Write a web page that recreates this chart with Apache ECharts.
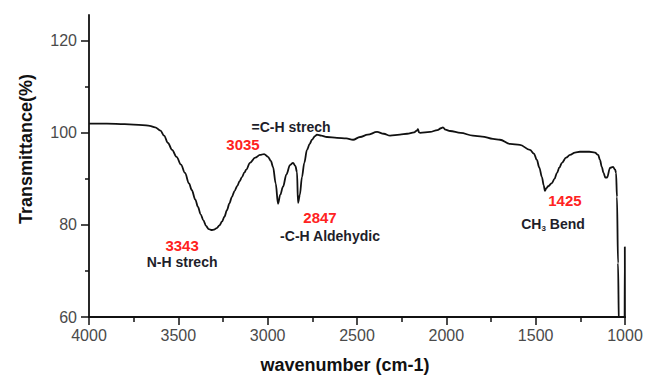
<!DOCTYPE html>
<html><head><meta charset="utf-8">
<script src="https://cdn.jsdelivr.net/npm/echarts@6/dist/echarts.min.js"></script>
<style>html,body{margin:0;padding:0;background:#fff}#c{width:646px;height:376px}</style>
</head><body><div id="c"></div>
<script>
// wavenumber (cm-1)
const wavenumber = [4000,3900,3800,3700,3660,3630,3600,3580,3558,3535,3510,3485,3463,3440,3425,3405,3390,3375,3360,3345,3330,3315,3300,3285,3270,3256,3242,3228,3214,3200,3185,3170,3157,3144,3130,3120,3099,3070,3043,3020,2998,2982,2970,2955,2942,2930,2914,2895,2875,2858,2845,2836,2830,2820,2808,2795,2780,2765,2752,2735,2724,2700,2668,2612,2560,2522,2483,2440,2388,2350,2315,2260,2220,2180,2165,2159,2153,2147,2091,2050,2030,2019,2005,1979,1920,1851,1800,1739,1700,1644,1588,1532,1510,1493,1480,1465,1455,1448,1440,1430,1409,1395,1381,1367,1353,1330,1308,1280,1252,1200,1168,1150,1140,1130,1120,1110,1100,1084,1067,1055,1050,1045,1039,1034,1025,1003,1001,1000];
// transmittance (%)
const transmittance = [102.0,102.0,101.9,101.7,101.5,101.2,100.5,99.4,97.8,96.3,94.8,93.1,91.3,89.0,87.6,85.5,83.9,82.3,81.0,79.8,79.1,78.9,79.0,79.3,79.9,80.7,81.8,83.2,84.7,86.1,87.4,88.5,89.5,90.4,91.4,92.0,93.5,94.6,95.2,95.4,94.8,93.9,92.6,89.0,84.6,86.5,88.3,91.0,93.0,93.5,92.8,91.5,84.8,86.5,90.4,93.5,96.3,97.6,98.5,99.3,99.6,99.4,99.1,98.9,98.8,98.5,99.1,99.6,100.2,99.8,99.4,99.6,99.8,100.1,100.5,100.8,100.1,100.0,100.2,100.6,101.0,101.2,100.7,100.4,100.0,99.4,99.2,98.7,98.5,97.6,97.4,96.3,95.5,94.1,92.5,90.4,88.6,87.4,88.0,88.4,89.1,90.0,91.3,92.5,93.5,94.6,95.2,95.7,95.9,95.9,95.7,95.2,94.1,92.6,91.3,90.3,90.3,92.4,92.6,92.0,91.3,86.1,71.7,58,45,45,75.2,50];

const yLabelValues = [60,80,100,120];
const yMinorValues = [70,90,110];

// annotations (text centre in data units)
const annText = ['3343','N-H strech','3035','=C-H strech','2847','-C-H Aldehydic','1425','CH3 Bend'];
const annW = [3479,3479,3138,2869,2707,2651,1336,1403];
const annT = [75.6,72.0,97.4,101.3,81.7,77.6,85.4,80.2];
const annRed = [true,false,true,false,true,false,true,false];

const data = wavenumber.map((w,i)=>[w, transmittance[i]]);
const chart = echarts.init(document.getElementById('c'), null, {renderer:'svg'});
const FONT = 'Liberation Sans, Arial, sans-serif';
chart.setOption({
  animation:false,
  grid:{left:89, right:21, top:15, bottom:59},
  xAxis:{
    type:'value', min:1000, max:4000, interval:500, inverse:true,
    axisLine:{show:true, lineStyle:{color:'#111', width:1.8}},
    axisTick:{show:true, length:8, lineStyle:{color:'#111', width:1.5}},
    minorTick:{show:true, splitNumber:2, length:5, lineStyle:{color:'#111', width:1.5}},
    axisLabel:{color:'#4a4a4a', fontSize:16, margin:10, fontFamily:FONT, formatter:v=>String(v)},
    splitLine:{show:false}
  },
  yAxis:[{
    type:'value', min:60, max:125.6,
    axisLine:{show:true, lineStyle:{color:'#111', width:1.8}},
    axisTick:{show:true, length:8, customValues:yLabelValues, lineStyle:{color:'#111', width:1.5}},
    axisLabel:{color:'#4a4a4a', fontSize:16, margin:12, customValues:yLabelValues, fontFamily:FONT},
    splitLine:{show:false}
  },{
    type:'value', min:60, max:125.6, position:'left',
    axisLine:{show:false},
    axisTick:{show:true, length:4, customValues:yMinorValues, lineStyle:{color:'#111', width:1.5}},
    axisLabel:{show:false},
    splitLine:{show:false}
  }],
  series:[{
    type:'line', data:data, yAxisIndex:0, showSymbol:false, symbol:'none',
    smooth:0.35, smoothMonotone:'x', clip:true,
    lineStyle:{color:'#111', width:1.8}
  }]
});
const g = [
  {type:'text', rotation:Math.PI/2, x:17, y:149, style:{text:'Transmittance(%)', font:'bold 18px '+FONT, fill:'#111', textAlign:'center', textVerticalAlign:'top'}},
  {type:'text', x:345, y:365, style:{text:'wavenumber (cm-1)', font:'bold 18px '+FONT, fill:'#111', textAlign:'center', textVerticalAlign:'middle'}}
];
annText.forEach((t,i)=>{
  const p = chart.convertToPixel({xAxisIndex:0, yAxisIndex:0}, [annW[i], annT[i]]);
  const isCH = t==='CH3 Bend';
  g.push({type:'text', x:p[0], y:p[1], style:{
    text: isCH ? 'CH{s|3} Bend' : t,
    font: (annRed[i] ? 'bold 15px ' : 'bold 14px ') + FONT,
    fill: annRed[i] ? '#ff2222' : '#1e1e2a',
    textAlign:'center', textVerticalAlign:'middle',
    rich: isCH ? {s:{font:'bold 8px '+FONT, fill:'#1e1e2a', padding:[8,0,0,0]}} : undefined
  }});
});
chart.setOption({graphic:g});
</script></body></html>
